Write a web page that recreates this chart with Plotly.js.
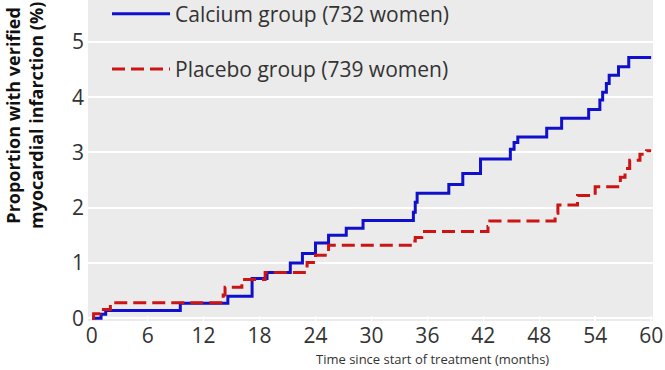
<!DOCTYPE html>
<html>
<head>
<meta charset="utf-8">
<script src="https://cdn.plot.ly/plotly-3.0.1.min.js"></script>
<style>html,body{margin:0;padding:0;background:#fff;}#chart{width:665px;height:370px;}</style>
</head>
<body>
<div id="chart"></div>
<script>
// Months since start and cumulative proportion (%) with verified myocardial infarction
var calciumMonths = [0, 1.0, 1.5, 9.5, 14.6, 17.2, 18.8, 21.3, 22.6, 24.0, 25.4, 27.3, 29.1, 34.5, 34.7, 34.9, 38.3, 39.8, 41.7, 44.9, 45.3, 45.7, 48.8, 50.4, 53.3, 54.5, 54.8, 55.2, 55.5, 56.5, 57.6, 60.0];
var calciumPct    = [0, 0.07, 0.14, 0.27, 0.40, 0.72, 0.83, 1.00, 1.17, 1.36, 1.50, 1.63, 1.77, 1.92, 2.10, 2.26, 2.42, 2.62, 2.88, 3.06, 3.18, 3.28, 3.44, 3.62, 3.78, 3.95, 4.09, 4.25, 4.40, 4.55, 4.72, 4.72];
var placeboMonths = [0, 0.2, 0.9, 2.0, 14.1, 14.3, 16.1, 18.6, 23.1, 24.0, 25.4, 34.4, 34.7, 35.4, 42.5, 42.7, 49.7, 50.0, 52.1, 54.0, 56.7, 57.2, 57.7, 58.8, 59.5, 60.0];
var placeboPct    = [0, 0.08, 0.16, 0.28, 0.42, 0.56, 0.70, 0.83, 1.01, 1.14, 1.32, 1.40, 1.46, 1.57, 1.66, 1.76, 1.90, 2.05, 2.22, 2.38, 2.55, 2.71, 2.86, 2.97, 3.03, 3.03];
var seriesNames = ["Calcium group (732 women)", "Placebo group (739 women)"];
var xTicks = [0, 6, 12, 18, 24, 30, 36, 42, 48, 54, 60];
var yTicks = [0, 1, 2, 3, 4, 5];
var yTitle = "Proportion with verified<br>myocardial infarction (%)";
var xTitle = "Time since start of treatment (months)";

var FONT = "'Open Sans', 'Noto Sans', sans-serif";

var traces = [
  {x: calciumMonths, y: calciumPct, name: seriesNames[0], type: "scatter", mode: "lines",
   line: {shape: "hv", color: "#1010cc", width: 3}, legendgroup: "a"},
  {x: placeboMonths, y: placeboPct, name: seriesNames[1], type: "scatter", mode: "lines",
   line: {shape: "hv", color: "#cc1414", width: 3, dash: "13px,6px"}, legendgroup: "b"}
];

var layout = {
  width: 665, height: 370,
  margin: {l: 88, r: 12, t: 0, b: 49, autoexpand: false},
  paper_bgcolor: "#ffffff",
  plot_bgcolor: "#ebebeb",
  font: {family: FONT, size: 21, color: "#333333"},
  showlegend: true,
  legend: {x: 19/565, y: 1.02, xanchor: "left", yanchor: "top", bgcolor: "rgba(0,0,0,0)",
           traceorder: "grouped", tracegroupgap: 25, itemwidth: 58,
           font: {family: FONT, size: 21, color: "#333333"}},
  xaxis: {range: [-0.4, 60.2], tickvals: xTicks, ticktext: xTicks.map(String),
          showgrid: false, zeroline: false, showline: false, automargin: false,
          ticks: "inside", ticklen: 5, tickwidth: 1.5, tickcolor: "#ffffff",
          tickfont: {family: FONT, size: 21, color: "#333333"}, fixedrange: true},
  yaxis: {range: [-0.05, 5.76], tickvals: yTicks, ticktext: yTicks.map(String),
          showgrid: true, gridcolor: "#ffffff", gridwidth: 2, zeroline: false, showline: false, automargin: false,
          ticks: "", ticklabelstandoff: 3,
          tickfont: {family: FONT, size: 21, color: "#333333"}, fixedrange: true},
  annotations: [
    {text: yTitle, xref: "paper", yref: "paper", x: -89/565, y: 90/321,
     xanchor: "left", yanchor: "bottom", textangle: -90, showarrow: false, align: "center",
     font: {family: FONT, size: 18, color: "#111111", weight: "bold"}},
    {text: xTitle, xref: "paper", yref: "paper", x: (432-88)/565, y: -(370-321)/321,
     xanchor: "center", yanchor: "bottom", showarrow: false,
     font: {family: FONT, size: 13, color: "#333333"}}
  ]
};

Plotly.newPlot("chart", traces, layout, {displayModeBar: false, staticPlot: true});
</script>
</body>
</html>
